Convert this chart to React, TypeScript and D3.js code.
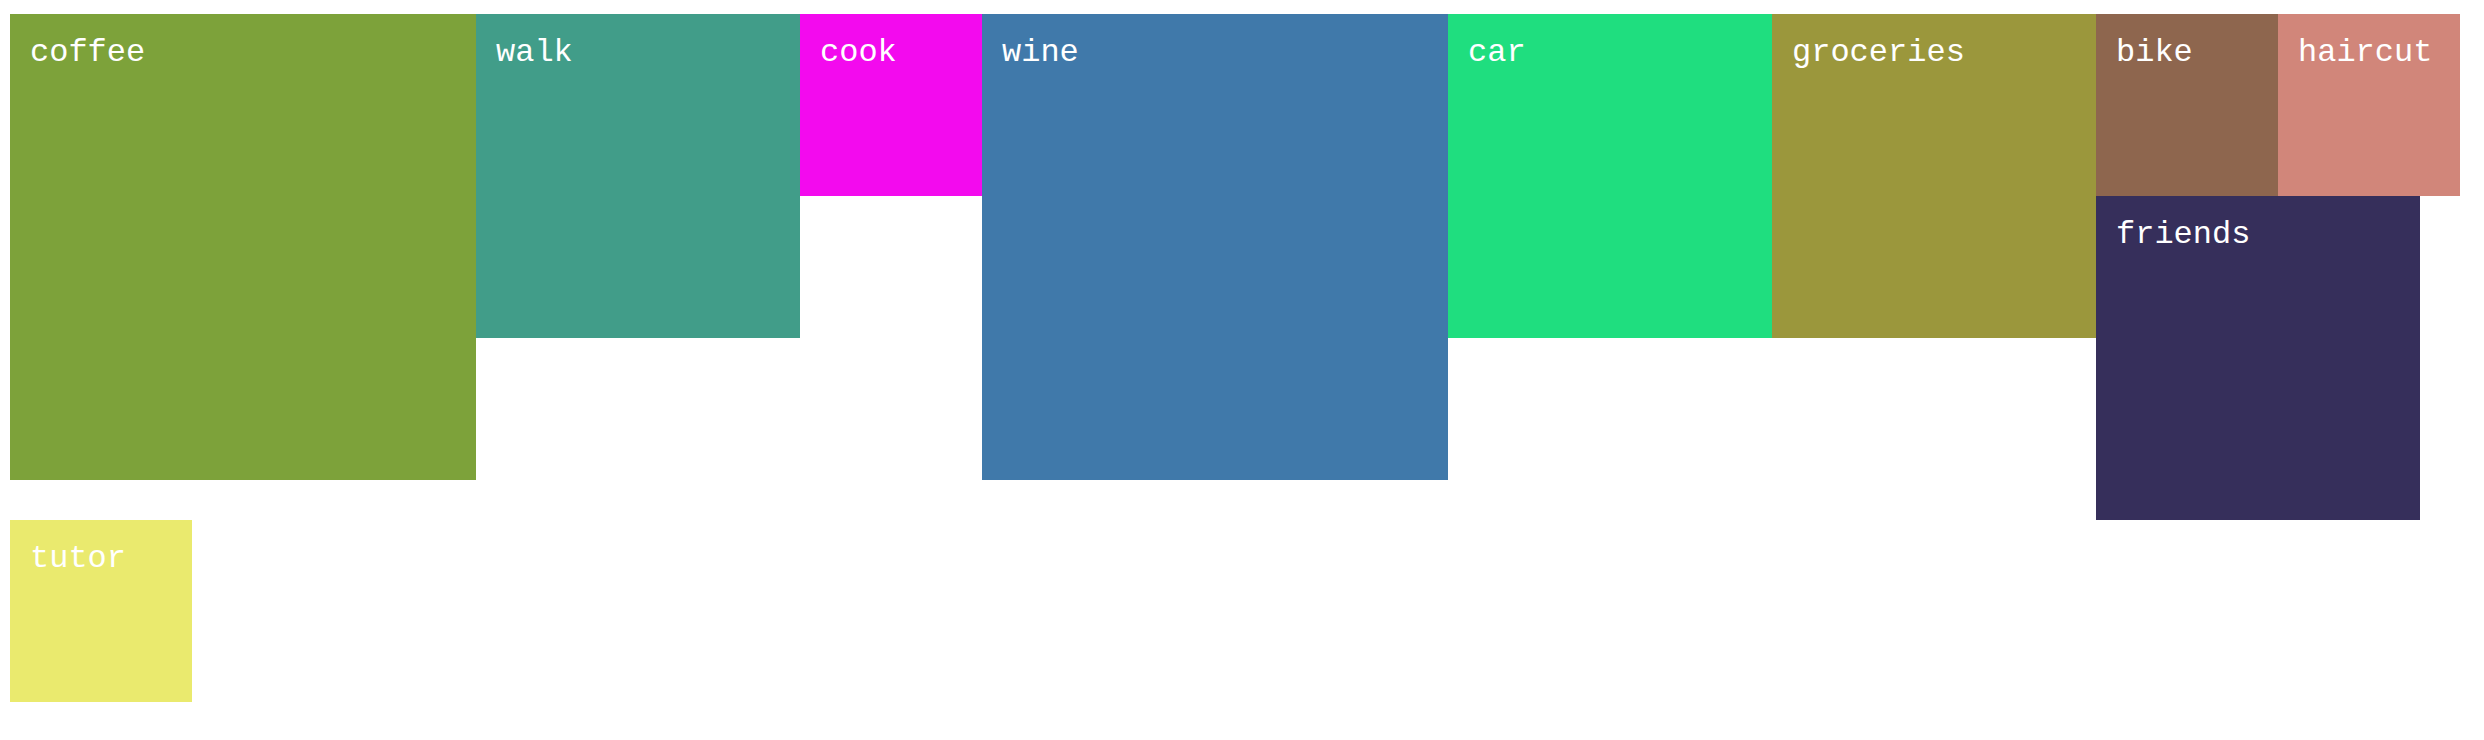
import React, { useMemo } from "react";
import * as d3 from "d3";

const categories = ["coffee", "walk", "cook", "wine", "car", "groceries", "bike", "haircut", "friends", "tutor"];
const values = [3, 2, 1, 3, 2, 2, 1, 1, 2, 1];
const colors = ["#7da23a", "#419d89", "#f30aee", "#4079aa", "#1fde7f", "#9b973c", "#8e664e", "#d1867a", "#362f5b", "#eaea6e"];

const W = 2484;
const H = 740;
const left = 10;
const top = 14;
const right = 2474;

type Box = { x: number; y: number; s: number; name: string; color: string };

export default function App() {
  const boxes = useMemo(() => {
    const size = d3.scaleLinear().domain([1, 3]).range([182, 466]);
    const placed: Box[] = [];
    let prevTop = top;
    categories.forEach((name, i) => {
      const s = size(values[i]);
      let y = prevTop;
      // float-left packing
      for (;;) {
        const overl = placed.filter((b) => b.y < y + s && b.y + b.s > y);
        const x = overl.length ? (d3.max(overl, (b) => b.x + b.s) as number) : left;
        if (x + s <= right + 0.5) {
          placed.push({ x, y, s, name, color: colors[i] });
          prevTop = y;
          break;
        }
        const nexts = placed.map((b) => b.y + b.s).filter((v) => v > y);
        y = d3.min(nexts) as number;
      }
    });
    return placed;
  }, []);

  return (
    <svg
      width={W}
      height={H}
      style={{ position: "absolute", left: 0, top: 0, display: "block" }}
    >
      {boxes.map((b) => (
        <g key={b.name}>
          <rect x={b.x} y={b.y} width={b.s} height={b.s} fill={b.color} />
          <text
            x={b.x + 20}
            y={b.y + 47}
            fill="#ffffff"
            fontFamily="'Courier New', 'Liberation Mono', monospace"
            fontSize={32}
          >
            {b.name}
          </text>
        </g>
      ))}
    </svg>
  );
}
